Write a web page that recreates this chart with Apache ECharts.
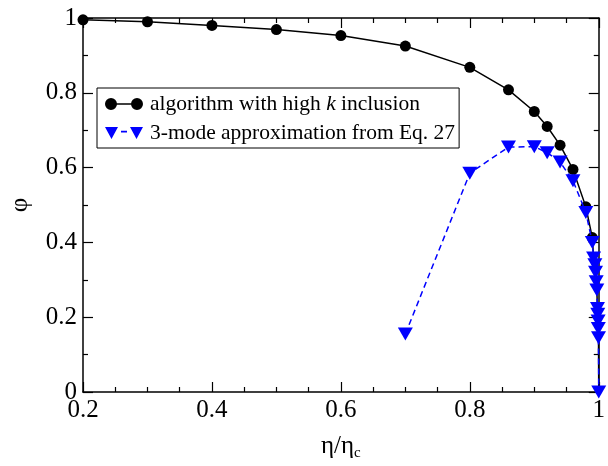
<!DOCTYPE html>
<html>
<head>
<meta charset="utf-8">
<script src="https://cdn.jsdelivr.net/npm/echarts@6/dist/echarts.min.js"></script>
<style>html,body{margin:0;padding:0;background:#fff;}#c{width:608px;height:466px;}</style>
</head>
<body>
<div id="c"></div>
<script>
// Data
const highKx = [0.2, 0.3, 0.4, 0.5, 0.6, 0.7, 0.8, 0.86, 0.9, 0.92, 0.94, 0.96, 0.98, 0.99];
const highKy = [0.995, 0.99, 0.98, 0.969, 0.953, 0.925, 0.868, 0.808, 0.75, 0.71, 0.66, 0.595, 0.495, 0.413];
// tail of the same curve, hidden under the triangles near eta/eta_c = 1
const highKTailX = [0.99, 0.992, 0.995, 0.997, 0.998, 0.999, 0.9996, 1.0];
const highKTailY = [0.413, 0.36, 0.32, 0.273, 0.223, 0.19, 0.145, 0.0];
const modeX = [0.7, 0.8, 0.86, 0.9, 0.92, 0.94, 0.96, 0.98, 0.99, 0.992, 0.994, 0.995, 0.996, 0.997, 0.998, 0.9985, 0.999, 0.9993, 0.9996, 1.0];
const modeY = [0.155, 0.585, 0.655, 0.656, 0.64, 0.615, 0.565, 0.48, 0.40, 0.358, 0.34, 0.32, 0.295, 0.273, 0.223, 0.208, 0.19, 0.17, 0.145, 0.0];
const seriesNames = ['algorithm with high {i|k} inclusion', '3-mode approximation from Eq. 27'];
const xTicks = {min: 0.2, max: 1, step: 0.2};
const yTicks = {min: 0, max: 1, step: 0.2};

const FONT = '"Liberation Serif", "Times New Roman", serif';
const zip = (a, b) => a.map((v, i) => [v, b[i]]);

function axisBase(pos, t, minorSplit, showLabel) {
  return {
    type: 'value', position: pos, min: t.min, max: t.max, interval: t.step,
    axisLine: {show: true, onZero: false, lineStyle: {color: '#000', width: 1.5}},
    axisTick: {show: true, inside: true, length: 10, lineStyle: {color: '#000', width: 1.2}},
    minorTick: {show: true, splitNumber: minorSplit, length: 5, lineStyle: {color: '#000', width: 1.2}},
    splitLine: {show: false},
    axisLabel: {show: showLabel, color: '#000', fontFamily: FONT, fontSize: 25, margin: 6}
  };
}

// legend icons: marker - line - marker (38 x 12 box)
const iconCircles = 'path://M0,6A6,6 0 1,1 12,6A6,6 0 1,1 0,6Z M26,6A6,6 0 1,1 38,6A6,6 0 1,1 26,6Z M11.5,5.2L26.5,5.2L26.5,6.8L11.5,6.8Z';
const iconTriangles = 'path://M0,0L13,0L6.5,12Z M25,0L38,0L31.5,12Z M16,3.8L22,3.8L22,5.4L16,5.4Z';

const chart = echarts.init(document.getElementById('c'), null, {renderer: 'canvas'});
const xMain = Object.assign(axisBase('bottom', xTicks, 4, true), {
  name: '{a|η/η}{b|c}', nameLocation: 'middle', nameGap: 40,
  nameTextStyle: {rich: {
    a: {fontFamily: FONT, fontSize: 25, color: '#000'},
    b: {fontFamily: FONT, fontSize: 15, color: '#000', padding: [14, 0, 0, 0]}
  }}
});
const yMain = Object.assign(axisBase('left', yTicks, 2, true), {
  name: 'φ', nameLocation: 'middle', nameGap: 50,
  nameTextStyle: {fontFamily: FONT, fontSize: 25, color: '#000'}
});

chart.setOption({
  animation: false,
  backgroundColor: '#fff',
  grid: {left: 76, right: 6, top: 18, bottom: 63, containLabel: false},
  xAxis: [xMain, axisBase('top', xTicks, 4, false)],
  yAxis: [yMain, axisBase('right', yTicks, 2, false)],
  legend: {
    show: true, orient: 'vertical', left: 97, top: 88,
    padding: [5, 4, 4, 8], itemGap: 7, itemWidth: 38, itemHeight: 12,
    borderColor: '#000', borderWidth: 1, borderRadius: 0, backgroundColor: '#fff',
    textStyle: {fontFamily: FONT, fontSize: 21.5, color: '#000', padding: [0, 0, 0, 2],
      rich: {i: {fontFamily: FONT, fontSize: 21.5, fontStyle: 'italic', color: '#000'}}},
    data: [
      {name: seriesNames[0], icon: iconCircles},
      {name: seriesNames[1], icon: iconTriangles}
    ]
  },
  series: [
    {
      name: seriesNames[0], type: 'line', xAxisIndex: 0, yAxisIndex: 0,
      data: zip(highKx, highKy), symbol: 'circle', symbolSize: 11,
      itemStyle: {color: '#000'}, lineStyle: {color: '#000', width: 1.5}, z: 2
    },
    {
      name: seriesNames[0], type: 'line', xAxisIndex: 0, yAxisIndex: 0,
      data: zip(highKTailX, highKTailY), symbol: 'none',
      itemStyle: {color: '#000'}, lineStyle: {color: '#000', width: 1.5}, z: 2
    },
    {
      name: seriesNames[1], type: 'line', xAxisIndex: 0, yAxisIndex: 0,
      data: zip(modeX, modeY), symbol: 'triangle', symbolRotate: 180, symbolSize: [15, 13],
      itemStyle: {color: '#0000ff'}, lineStyle: {color: '#0000ff', width: 1.5, type: [6, 4]}, z: 3
    }
  ]
});
</script>
</body>
</html>
